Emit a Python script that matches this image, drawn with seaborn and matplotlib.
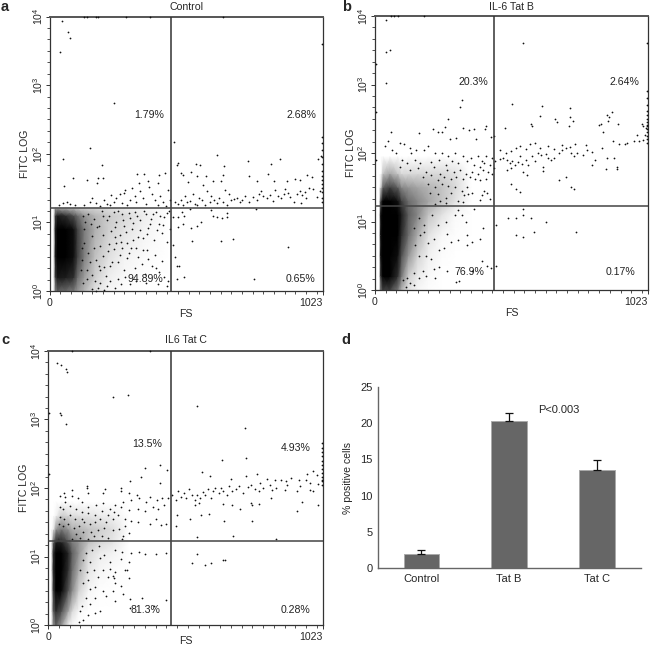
import numpy as np
import pandas as pd
import seaborn as sns
import matplotlib.pyplot as plt

sns.set_style("ticks")
plt.rcParams['font.family'] = ['Liberation Sans', 'DejaVu Sans']
plt.rcParams['mathtext.default'] = 'regular'
plt.rcParams['font.size'] = 7.6

# individual events as (FS, log10 FITC)
a_points = [(46,3.94),(68,3.77),(75,3.69),(40,3.48),(240,2.74),(150,2.09),(52,1.93),(195,1.83),(87,1.65),(56,1.53),
 (139,1.62),(177,1.57),(183,1.64),(199,1.64),(326,1.70),(354,1.70),(411,1.69),(432,1.72),(467,2.17),(627,1.98),
 (743,1.90),(864,1.93),(827,1.85),(478,1.84),(480,1.87),(547,1.85),(563,1.84),(653,1.82),(490,1.72),(498,1.69),
 (530,1.73),(552,1.67),(519,1.59),(585,1.67),(575,1.55),(610,1.6),(640,1.61),(650,1.69),(748,1.67),(778,1.6),
 (816,1.7),(838,1.6),(887,1.6),(917,1.63),(936,1.62),(965,1.69),(982,1.66),(1005,1.93),(1015,1.97),
 (130,4.0),(142,4.0),(175,4.0),(182,4.0),(285,4.0),(375,4.0),(650,4.0),(1021,3.6),(1021,2.25),(1021,2.15),(1021,2.05),
 (1021,1.95),(1021,1.85),(1021,1.75),(1021,1.68),(1021,1.62),(1021,1.56),(1021,1.5),(1021,1.44),(1021,1.36),(1021,1.3),
 (470,1.3),(480,1.27),(490,1.33),(500,1.25),(505,1.38),(515,1.29),(527,1.31),(535,1.42),(545,1.27),(552,1.25),
 (560,1.35),(570,1.32),(580,1.26),(590,1.45),(600,1.29),(605,1.38),(615,1.33),(628,1.28),(635,1.36),(648,1.29),
 (655,1.47),(665,1.26),(670,1.41),(680,1.32),(690,1.34),(700,1.36),(712,1.29),(720,1.33),(730,1.38),(745,1.3),
 (760,1.37),(775,1.33),(785,1.42),(790,1.46),(800,1.39),(815,1.35),(826,1.4),(835,1.31),(845,1.47),(855,1.38),
 (865,1.36),(878,1.41),(893,1.43),(900,1.37),(915,1.3),(925,1.41),(938,1.46),(945,1.4),(955,1.44),(970,1.5),
 (985,1.48),(1000,1.37),(1010,1.45),(940,1.28),(960,1.36),(880,1.48),
 (479,1.08),(504,1.10),(498,.98),(482,.93),(529,.92),(553,.95),(566,1.0),(534,.73),(640,.73),(687,.76),
 (891,.64),(766,.18),(503,.2),(476,.17),(469,.5),(476,.37),(484,.36),(463,.67),(603,1.18),(613,1.1),
 (625,1.08),(644,1.07),(665,1.08),(665,1.13),(772,1.19),(494,1.15),(525,1.2),(463,1.08),
 (35,1.26),(50,1.28),(65,1.3),(75,1.27),(95,1.25),(130,1.26),(150,1.3),(160,1.35),(175,1.28),(190,1.24),
 (205,1.33),(215,1.27),(230,1.4),(240,1.3),(250,1.36),(262,1.42),(270,1.28),(282,1.47),(290,1.25),(300,1.33),
 (310,1.5),(318,1.38),(325,1.29),(338,1.46),(350,1.35),(360,1.27),(372,1.52),(385,1.41),(395,1.32),(405,1.26),
 (415,1.38),(425,1.29),(437,1.24),(442,1.47),(450,1.33),(407,1.58),(335,1.58),(370,1.6),(280,1.43),(225,1.25),
 (125,1.1),(145,1.12),(165,1.05),(185,.95),(200,1.1),(215,1.03),(230,.88),(240,1.15),(250,1.0),(262,.82),
 (270,1.12),(280,.95),(290,.7),(300,1.07),(310,.9),(320,1.15),(330,.78),(340,1.03),(350,.6),(360,1.12),
 (368,.92),(380,1.05),(390,.75),(398,1.15),(410,.98),(420,.85),(430,1.08),(440,.72),(448,1.17),(452,.9),
 (130,.7),(145,.55),(160,.8),(175,.45),(190,.65),(205,.35),(220,.58),(235,.42),(250,.7),(265,.52),
 (278,.3),(290,.48),(305,.62),(318,.34),(332,.5),(345,.4),(358,.25),(370,.47),(385,.36),(395,.52),
 (410,.28),(422,.43),(430,.2),(445,.15),(405,.1),(300,.1),(255,.18),(210,.22),(170,.15),(140,.3),
 (360,.12),(400,.33),(180,.05),(215,.08),(125,.12),(440,.07),(205,.02),(175,.0),(160,.03),(130,.9),
 (197,1.16),(223,1.09),(246,.93),(258,1.17),(275,1.04),(287,.86),(296,1.14),(313,.99),(327,1.09),(337,.89),
 (352,1.16),(364,.83),(376,.98),(388,1.12),(402,.89),(413,1.09),(426,.96),(438,1.13),(349,.77),(312,.74),
 (268,.72),(244,.79),(223,.68),(199,.82),(178,.93),(156,.97),(133,1.0),(150,.42),(168,.62),(186,.36),
 (201,.51),(226,.36),(242,.61),(256,.42),(273,.62),(296,.56),(322,.63),(366,.6),(142,.18),(158,.24),
 (188,.12),(226,.14),(246,.05),(268,.1),(284,.2),(322,.15),(188,.3),(120,.45),(120,.62),(116,.3)]

b_points = [(42,3.94),(40,3.48),(55,3.51),(42,3.02),(556,3.6),(325,2.77),(319,2.67),(513,2.71),(627,2.68),(731,2.65),
 (620,2.54),(486,2.37),(590,2.4),(585,2.42),(676,2.49),(681,2.45),(741,2.46),(731,2.53),(728,2.4),(846,2.42),
 (868,2.56),(888,2.6),(878,2.52),(910,2.43),(873,2.46),(838,2.41),(1000,2.43),(1018,2.41),(1005,2.4),(1015,2.36),
 (980,2.26),(1010,2.27),(972,2.17),(990,2.18),(1006,2.19),(855,2.3),(893,2.17),(916,2.13),(935,2.13),(943,2.14),
 (273,2.5),(263,2.38),(251,2.31),(235,2.31),(218,2.35),(166,2.29),(60,2.31),(38,2.1),(50,2.18),
 (330,2.37),(352,2.33),(372,2.35),(415,2.4),(412,2.35),(433,2.23),(445,2.25),(380,2.2),(305,2.22),(280,2.2),
 (130,2.08),(92,2.15),(110,2.13),(65,2.04),(80,2.0),(135,2.0),(155,2.05),(185,2.05),(200,2.1),(225,2.0),
 (250,2.0),(275,1.95),(300,2.0),(330,1.95),(360,1.93),(385,1.95),(400,1.88),(415,1.95),(437,1.92),(450,1.88),
 (100,1.9),(120,1.85),(150,1.9),(170,1.85),(210,1.87),(240,1.9),(265,1.83),(290,1.88),(310,1.85),(345,1.88),
 (370,1.82),(395,1.8),(410,1.85),(430,1.82),(445,1.78),(92,1.8),(130,1.75),(160,1.78),(190,1.72),(220,1.8),
 (245,1.7),(270,1.75),(295,1.72),(320,1.75),(340,1.7),(365,1.72),(385,1.7),(405,1.75),(425,1.72),(440,1.7),
 (180,1.65),(210,1.68),(235,1.6),(260,1.65),(285,1.62),(305,1.65),(330,1.62),(355,1.65),(375,1.62),(395,1.6),
 (415,1.62),(200,1.55),(225,1.5),(250,1.55),(275,1.52),(300,1.5),(325,1.45),(345,1.5),(365,1.42),(335,1.38),
 (350,1.4),(400,1.38),(410,1.45),(420,1.42),(205,1.42),(235,1.4),(265,1.35),(285,1.42),(310,1.3),(330,1.28),
 (245,1.3),(265,1.27),(225,1.26),(395,1.32),(430,1.33),
 (470,1.91),(480,1.93),(495,1.9),(505,1.85),(512,1.88),(525,1.83),(535,1.87),(545,1.95),(552,1.84),(565,1.9),
 (575,1.82),(590,1.95),(600,1.88),(612,2.0),(622,1.97),(630,1.8),(640,1.98),(650,1.93),(660,1.9),(672,1.93),
 (690,2.0),(700,2.05),(715,2.08),(733,2.0),(745,1.95),(758,2.0),(780,1.97),(795,2.05),(815,2.02),(825,1.9),
 (470,2.05),(490,2.0),(510,2.03),(528,2.07),(545,2.1),(565,2.06),(580,2.13),(600,2.15),(620,2.08),(650,2.1),
 (670,2.06),(700,2.12),(730,2.09),(750,2.13),(790,2.12),(850,2.07),(870,1.92),(895,1.92),(905,1.8),(815,1.83),
 (510,1.78),(495,1.75),(555,1.72),(570,1.68),(630,1.73),(690,1.6),(715,1.65),(745,1.47),(735,1.5),(510,1.55),
 (530,1.47),(545,1.43),(865,1.77),(905,1.77),
 (1021,2.9),(1021,2.8),(1021,2.7),(1021,2.62),(1021,2.55),(1021,2.5),(1021,2.45),(1021,2.4),(1021,2.35),(1021,2.3),
 (1021,2.25),(1021,2.2),(1021,2.15),(1021,3.6),
 (500,1.05),(530,.8),(530,1.05),(553,1.1),(553,1.18),(585,1.05),(642,1.0),(755,.85),(595,.85),(555,.78),
 (455,.95),(405,.9),(395,.75),(365,.7),(345,.8),(270,.82),(285,.7),(345,.65),(310,.73),(260,.62),
 (240,.58),(220,.75),(200,.68),(185,.85),(190,.5),(210,.45),(165,.5),(170,.8),(150,.65),(145,.9),
 (165,1.05),(185,.95),(215,1.1),(235,.95),(265,1.0),(300,1.1),(340,1.0),(310,1.17),(325,1.1),(370,1.18),
 (420,.35),(400,.42),(270,.28),(220,.3),(180,.28),(145,.25),(165,.18),(190,.2),(225,.18),(240,.33),
 (305,.12),(315,.13),(365,.28),(435,.32),(455,.35),(130,.1),(145,.08),(115,.05),(120,.18),(105,.15),
 (60,4.0),(70,4.0),(85,4.0),(185,4.0),(5,3.3),(5,2.6),(5,1.9)]

c_points = [(32,3.83),(47,3.8),(70,3.7),(68,3.73),(243,3.33),(299,3.36),(555,3.19),(45,3.09),(48,3.06),(67,2.93),
 (732,2.88),(738,2.44),(649,2.41),(362,2.29),(415,2.34),(418,2.08),(347,2.16),(306,2.1),(443,2.26),(572,2.23),
 (603,2.17),(681,2.13),(735,2.18),(778,2.2),(813,2.13),(825,2.05),(843,2.12),(867,2.12),(885,2.1),(905,2.14),
 (935,2.12),(937,2.03),(962,2.2),(985,2.25),(1000,2.19),(1005,2.06),(1020,2.12),(975,2.08),(960,2.12),
 (145,2.03),(145,2.0),(88,1.97),(150,1.92),(205,1.93),(212,1.98),(270,1.96),(272,2.0),(330,1.9),(300,1.92),
 (43,1.88),(60,1.93),(65,1.87),(88,1.88),(110,1.86),(125,1.8),(65,1.8),(45,1.72),(55,1.7),(80,1.73),
 (105,1.7),(125,1.65),(150,1.72),(180,1.75),(205,1.78),(230,1.7),(250,1.75),(280,1.8),(310,1.82),(340,1.85),
 (365,1.8),(380,1.87),(405,1.82),(425,1.85),(445,1.86),(430,1.75),(410,1.7),(390,1.72),(360,1.66),(335,1.7),
 (300,1.68),(270,1.72),(245,1.65),(225,1.6),(200,1.67),(175,1.6),(150,1.63),(125,1.55),(100,1.55),(80,1.6),
 (60,1.55),(45,1.58),(40,1.48),(55,1.45),(75,1.48),(95,1.42),(115,1.45),(135,1.5),(155,1.48),(175,1.5),
 (195,1.55),(215,1.5),(240,1.55),(260,1.6),(285,1.55),(310,1.52),(335,1.5),(285,1.45),(265,1.4),(240,1.38),
 (210,1.42),(185,1.38),(160,1.36),(130,1.36),(105,1.33),(300,1.35),(280,1.3),(275,1.25),(400,1.55),(440,1.48),
 (420,1.46),(380,1.47),(170,1.3),(200,1.3),(225,1.27),(120,1.27),(150,1.25),(90,1.25),
 (460,1.9),(475,1.83),(485,1.95),(495,1.87),(505,1.93),(515,1.85),(525,1.98),(535,1.9),(545,1.83),(555,1.9),
 (565,1.85),(575,1.94),(585,1.9),(595,1.98),(605,1.85),(612,1.95),(622,2.0),(635,1.93),(645,2.0),(652,1.96),
 (665,1.9),(675,2.03),(685,1.95),(700,1.98),(712,2.03),(725,1.92),(745,2.02),(755,2.05),(770,1.98),(785,1.95),
 (790,2.07),(800,2.0),(835,1.97),(850,2.0),(880,1.97),(890,2.04),(975,1.97),(985,1.95),(925,1.95),
 (545,1.75),(560,1.78),(650,1.77),(685,1.75),(715,1.7),(755,1.78),(760,1.75),(785,1.77),(830,1.85),(925,1.67),
 (945,1.8),(1005,1.75),(480,1.6),(530,1.55),(570,1.6),(600,1.62),(655,1.52),(760,1.52),(475,1.45),(555,1.28),
 (690,1.3),(850,1.25),
 (1021,2.65),(1021,2.58),(1021,2.52),(1021,2.46),(1021,2.4),(1021,2.34),(1021,2.28),(1021,2.22),(1021,2.16),(1021,2.1),(1021,2.05),
 (553,1.03),(535,.9),(585,.88),(608,.9),(650,.95),(660,.95),(5,3.1),(5,2.2),(380,4.0),(90,4.0),
 (440,1.05),(400,1.03),(360,1.03),(340,1.07),(310,1.05),(275,1.07),(270,.97),(300,.92),(250,1.1),(210,1.02),
 (230,.92),(195,.98),(165,1.1),(190,1.15),(140,1.05),(155,.92),(130,.95),(120,.8),(145,.78),(170,.8),
 (205,.8),(230,.82),(250,.78),(285,.8),(300,.68),(245,.68),(222,.7),(185,.7),(150,.65),(130,.62),
 (155,.52),(175,.55),(205,.5),(240,.5),(270,.57),(280,.45),(250,.35),(215,.42),(175,.4),(140,.4),
 (125,.28),(155,.3),(175,.17),(195,.2),(150,.15),(130,.08),(115,.05),(120,.2),(305,.38),(350,.4),
 (395,.28),(440,.36),(305,.25),(250,.62),(240,.72),(295,.8)]

# dense core of each panel: darkness (0-1) read at FS / log10 FITC nodes
a_fs = [15, 22, 30, 60, 90, 105, 130, 170, 220, 280, 350, 440]
a_log = [0, 0.2, 0.5, 0.9, 1.1, 1.2, 1.22]
a_core = [[0, .55, .7, .65, .6, .5, .4, .2, .08, .02, 0, 0],
          [0, .8, .92, .9, .85, .65, .48, .3, .14, .05, 0, 0],
          [0, .9, 1, 1, .95, .8, .58, .36, .22, .1, .04, 0],
          [0, .9, 1, 1, .95, .8, .6, .42, .3, .2, .1, 0],
          [0, .8, .9, .85, .75, .65, .5, .4, .32, .25, .15, 0],
          [0, .5, .5, .45, .4, .35, .3, .28, .22, .16, .1, 0],
          [0, 0, 0, 0, 0, 0, 0, 0, 0, 0, 0, 0]]

b_fs = [15, 22, 30, 55, 85, 100, 125, 160, 200, 250, 300, 360]
b_log = [0, 0.2, 0.5, 0.8, 1.1, 1.3, 1.5, 1.7, 1.95]
b_core = [[0, .6, .8, .8, .6, .4, .2, .08, .02, 0, 0, 0],
          [0, .85, 1, 1, .85, .6, .3, .15, .05, 0, 0, 0],
          [0, .95, 1, 1, .95, .75, .5, .28, .12, .03, 0, 0],
          [0, .95, 1, 1, 1, .85, .65, .42, .2, .06, .02, 0],
          [0, .95, 1, 1, 1, .9, .7, .55, .35, .2, .05, 0],
          [0, .8, 1, 1, .95, .8, .65, .55, .45, .35, .2, 0],
          [0, .3, .7, .8, .7, .55, .5, .45, .4, .35, .25, 0],
          [0, 0, .35, .45, .35, .25, .25, .25, .25, .25, .2, 0],
          [0, 0, 0, 0, 0, 0, 0, 0, 0, 0, 0, 0]]

c_fs = [12, 20, 30, 50, 75, 90, 115, 150, 190, 240, 300]
c_log = [0, 0.2, 0.5, 0.8, 1.05, 1.2, 1.4, 1.6, 1.8]
c_core = [[0, .5, .7, .5, .15, .05, 0, 0, 0, 0, 0],
          [0, .7, .85, .75, .45, .25, .05, 0, 0, 0, 0],
          [0, .8, 1, .98, .75, .55, .28, .08, .02, 0, 0],
          [0, .85, 1, 1, .85, .65, .42, .18, .08, .03, 0],
          [0, .85, 1, 1, .88, .7, .5, .25, .15, .1, 0],
          [0, .7, .9, .9, .75, .6, .5, .35, .25, .18, 0],
          [0, .15, .5, .6, .5, .42, .4, .35, .3, .22, 0],
          [0, 0, .1, .3, .25, .22, .2, .18, .15, .12, 0],
          [0, 0, 0, 0, 0, 0, 0, 0, 0, 0, 0]]

bar_labels = ['Control', 'Tat B', 'Tat C']
bar_values = [1.9, 20.3, 13.6]
bar_errors = [0.55, 1.1, 1.3]

W, H = 650, 647


def px_axes(left, right, top, bottom):
    return fig.add_axes([left / W, 1 - bottom / H, (right - left) / W, (bottom - top) / H])


def flow_panel(ax, points, fs_nodes, log_nodes, core, gate_x, gate_y, title, labels, fs_pad=0.5, title_pad=4.5):
    ax.pcolormesh(fs_nodes, 10.0 ** np.array(log_nodes), np.array(core), shading='gouraud',
                  cmap='Greys', vmin=0, vmax=1.0, rasterized=True)
    df = pd.DataFrame(points, columns=['FS', 'logFITC'])
    df['FITC'] = 10.0 ** df['logFITC']
    sns.scatterplot(data=df, x='FS', y='FITC', ax=ax, s=1.6, color='#111111', linewidth=0,
                    legend=False, clip_on=False, zorder=3)
    ax.set_yscale('log')
    ax.set_xlim(0, 1023)
    ax.set_ylim(1, 10000)
    ax.axvline(gate_x, color='#333333', lw=1.1, zorder=4)
    ax.axhline(10 ** gate_y, color='#444444', lw=1.1, zorder=4)
    ax.set_xticks([0, 1023])
    ax.set_xticklabels(['0', '1023'])
    ax.get_xticklabels()[1].set_ha('right')
    ax.set_xticks(np.arange(40, 1023, 40), minor=True)
    ax.set_yticks([1, 10, 100, 1000, 10000])
    ax.set_yticklabels(['$10^{%d}$' % i for i in range(5)], rotation=90, va='center')
    ax.set_yticks([10 ** (d + k / 6) for d in range(4) for k in range(1, 6)], minor=True)
    ax.set_yticklabels([], minor=True)
    ax.tick_params(which='major', length=3, width=0.7, labelsize=7.6, color='#333333')
    ax.tick_params(axis='x', which='major', pad=2)
    ax.tick_params(axis='y', which='major', pad=0.5)
    ax.tick_params(which='minor', length=2, width=0.6, color='#333333')
    ax.set_xlabel('FS', fontsize=7.6, labelpad=fs_pad)
    ax.set_ylabel('FITC LOG', fontsize=7.6, labelpad=0.5)
    ax.set_title(title, fontsize=7.6, pad=title_pad)
    for s in ax.spines.values():
        s.set_visible(True)
        s.set_color('#333333')
        s.set_linewidth(0.9)
    ax.spines['top'].set_color('#555555')
    ax.spines['top'].set_linewidth(1.4)
    for (x, y, t) in labels:
        ax.text(x, 10 ** y, t, ha='center', va='center', fontsize=7.6, color='#222222', zorder=5)


fig = plt.figure(figsize=(W / 100, H / 100), dpi=100)

ax_a = px_axes(49.5, 323, 16.5, 291)
flow_panel(ax_a, a_points, a_fs, a_log, a_core, 456, 1.216, 'Control',
           [(372, 2.57, '1.79%'), (943, 2.57, '2.68%'), (360, 0.17, '94.89%'), (940, 0.17, '0.65%')])
ax_b = px_axes(375, 648, 16, 290)
flow_panel(ax_b, b_points, b_fs, b_log, b_core, 446, 1.226, 'IL-6 Tat B',
           [(370, 3.04, '20.3%'), (935, 3.04, '2.64%'), (355, 0.27, '76.9%'), (919, 0.27, '0.17%')])
ax_c = px_axes(48, 323, 351, 625)
flow_panel(ax_c, c_points, c_fs, c_log, c_core, 456, 1.23, 'IL6 Tat C',
           [(367, 2.64, '13.5%'), (920, 2.59, '4.93%'), (364, 0.22, '81.3%'), (920, 0.22, '0.28%')],
           fs_pad=-4, title_pad=5.5)

ax_d = px_axes(378, 641, 387, 568)
bars = pd.DataFrame({'group': bar_labels, 'value': bar_values})
sns.barplot(data=bars, x='group', y='value', ax=ax_d, color='#666666', width=0.4, saturation=1,
            edgecolor='#aaaaaa', linewidth=0.7, errorbar=None)
ax_d.errorbar(range(3), bar_values, yerr=[[0, 0, 0], bar_errors], fmt='none', ecolor='#111111',
              elinewidth=0.9, capsize=3, capthick=0.9)
ax_d.set_xlim(-0.49, 2.5)
ax_d.set_ylim(0, 25)
ax_d.set_yticks([0, 5, 10, 15, 20, 25])
ax_d.set_xlabel('')
ax_d.set_ylabel('% positive cells', fontsize=7.6, labelpad=5)
ax_d.tick_params(axis='x', length=0, pad=4, labelsize=8)
ax_d.tick_params(axis='y', length=0, pad=4, labelsize=8)
sns.despine(ax=ax_d)
for side in ['left', 'bottom']:
    ax_d.spines[side].set_color('#666666')
    ax_d.spines[side].set_linewidth(1.0)
ax_d.text(1.33, 21.8, 'P<0.003', ha='left', va='center', fontsize=8)

for letter, x, y in [('a', 1, 7), ('b', 342, 7), ('c', 1, 340), ('d', 341, 340)]:
    fig.text(x / W, 1 - y / H, letter, fontsize=10.5, fontweight='bold', ha='left', va='center')

fig.savefig('out.png', dpi=100)
